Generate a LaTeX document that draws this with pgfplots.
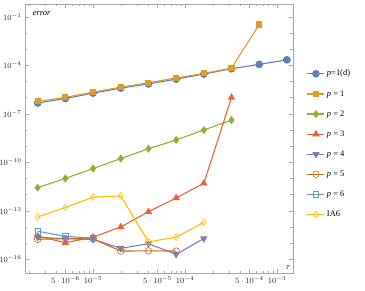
\documentclass[border=0pt]{standalone}
\usepackage{fontspec}
\setmainfont{Liberation Serif}
\usepackage{pgfplots}
\pgfplotsset{compat=1.18}
\definecolor{c1}{HTML}{5E81B5}
\definecolor{c2}{HTML}{E19C24}
\definecolor{c3}{HTML}{8FB032}
\definecolor{c4}{HTML}{EB6235}
\definecolor{c5}{HTML}{8778B3}
\definecolor{c6}{HTML}{C56E1A}
\definecolor{c7}{HTML}{5D9EC7}
\definecolor{c8}{HTML}{FFBF00}
\begin{document}
\begin{tikzpicture}
\begin{axis}[
  name=ax,
  scale only axis, width=268bp, height=269bp,
  xmode=log, ymode=log,
  xmin=1.82e-6, xmax=1.49e-3, ymin=1.4e-17, ymax=0.63,
  axis line style={gray!70, line width=0.5pt},
  every tick/.style={gray!70, line width=0.5pt},
  tick align=inside,
  major tick length=4bp, minor tick length=2.5bp,
  xtick={5e-6,1e-5,5e-5,1e-4,5e-4,1e-3},
  xticklabels={$5\cdot10^{-6}$,$10^{-5}$,$5\cdot10^{-5}$,$10^{-4}$,$5\cdot10^{-4}$,$10^{-3}$},
  minor xtick={2e-6,3e-6,4e-6,6e-6,7e-6,8e-6,9e-6,2e-5,3e-5,4e-5,6e-5,7e-5,8e-5,9e-5,2e-4,3e-4,4e-4,6e-4,7e-4,8e-4,9e-4},
  ytick={1e-16,1e-13,1e-10,1e-7,1e-4,1e-1},
  minor ytick={1e-17,1e-15,1e-14,1e-12,1e-11,1e-9,1e-8,1e-6,1e-5,1e-3,1e-2},
  tick label style={font=\fontsize{8.5}{10}\selectfont, text=black!85},
  log basis y=10,
  legend style={at={(1.04,0.77)}, anchor=north west, draw=none, fill=none,
    font=\fontsize{8.5}{10}\selectfont, row sep=9bp},
  legend cell align=left,
  every axis plot/.append style={line width=1.1pt},
]
\addplot[c1, mark=*, mark size=3.3pt, mark options={fill=c1}] coordinates {
 (2.5e-6,4.7e-7) (5e-6,8.9e-7) (1e-5,1.9e-6) (2e-5,3.9e-6) (4e-5,7.1e-6)
 (8e-5,1.4e-5) (1.6e-4,2.9e-5) (3.2e-4,6.2e-5) (6.4e-4,1.15e-4) (1.28e-3,2.2e-4)};
\addlegendentry{\textit{p}=1(d)}
\addplot[c2, mark=square*, mark size=2.5pt, mark options={fill=c2}] coordinates {
 (2.5e-6,5.9e-7) (5e-6,1.05e-6) (1e-5,2.2e-6) (2e-5,4.5e-6) (4e-5,8.5e-6)
 (8e-5,1.66e-5) (1.6e-4,3.2e-5) (3.2e-4,6.8e-5) (6.4e-4,3.4e-2)};
\addlegendentry{\textit{p} = 1}
\addplot[c3, mark=diamond*, mark size=3.2pt, mark options={fill=c3}] coordinates {
 (2.5e-6,2.7e-12) (5e-6,1.0e-11) (1e-5,4.1e-11) (2e-5,1.7e-10) (4e-5,6.9e-10)
 (8e-5,2.4e-9) (1.6e-4,1.0e-8) (3.2e-4,4.1e-8)};
\addlegendentry{\textit{p} = 2}
\addplot[c4, mark=triangle*, mark size=3.2pt, mark options={fill=c4}] coordinates {
 (2.5e-6,2.7e-15) (5e-6,1.05e-15) (1e-5,2.3e-15) (2e-5,1.0e-14) (4e-5,8.7e-14)
 (8e-5,6.2e-13) (1.6e-4,5e-12) (3.2e-4,1.04e-6)};
\addlegendentry{\textit{p} = 3}
\addplot[c5, mark=triangle*, mark size=3.2pt, mark options={fill=c5, rotate=180}] coordinates {
 (2.5e-6,2.3e-15) (5e-6,1.85e-15) (1e-5,1.7e-15) (2e-5,4.7e-16) (4e-5,9.1e-16)
 (8e-5,2.0e-16) (1.6e-4,1.9e-15)};
\addlegendentry{\textit{p} = 4}
\addplot[c6, mark=o, mark size=3.3pt, mark options={fill=white, line width=0.6pt}] coordinates {
 (2.5e-6,1.7e-15) (5e-6,1.9e-15) (1e-5,1.8e-15) (2e-5,3.2e-16) (4e-5,3.3e-16)
 (8e-5,3.2e-16)};
\addlegendentry{\textit{p} = 5}
\addplot[c7, mark=square, mark size=2.6pt, mark options={fill=white, line width=0.6pt}] coordinates {
 (2.5e-6,5.4e-15) (5e-6,2.6e-15) (1e-5,2.0e-15)};
\addlegendentry{\textit{p} = 6}
\addplot[c8, mark=diamond, mark size=3.3pt, mark options={fill=white, line width=0.6pt}] coordinates {
 (2.5e-6,4.1e-14) (5e-6,1.6e-13) (1e-5,6.9e-13) (2e-5,8.3e-13) (4e-5,1.2e-15)
 (8e-5,2.3e-15) (1.6e-4,1.9e-14)};
\addlegendentry{IA6}
\node[anchor=north west, font=\fontsize{8.5}{10}\selectfont\itshape, inner sep=1pt] at (rel axis cs:0.025,0.978) {error};
\node[anchor=south east, font=\fontsize{8.5}{10}\selectfont\itshape, inner sep=1pt] at (rel axis cs:0.995,0.008) {$\tau$};
\end{axis}
\pgfresetboundingbox
\path ([shift={(-25bp,-18bp)}]ax.south west) rectangle ([shift={(72bp,4bp)}]ax.north east);
\end{tikzpicture}
\end{document}
